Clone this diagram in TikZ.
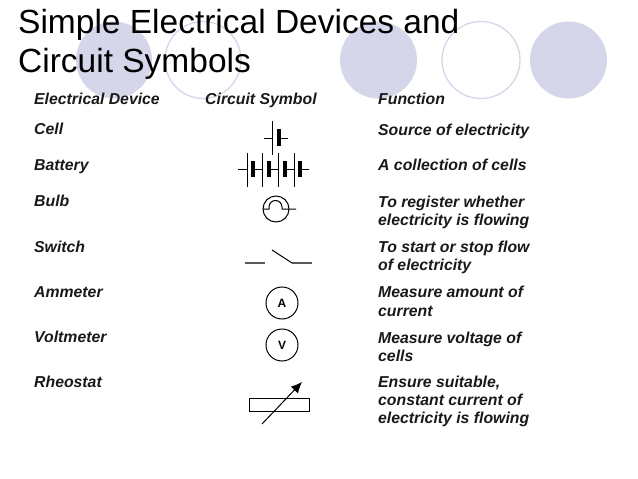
\documentclass[tikz,border=0pt]{standalone}
\usepackage{fontspec}
\setmainfont{Liberation Sans}
\usetikzlibrary{arrows.meta}
\definecolor{disc}{HTML}{D6D6EA}
\tikzset{
 filled/.style={fill=disc,draw=none},
 ring/.style={draw=disc,line width=1.3pt,fill=none},
 ttl/.style={anchor=base west,inner sep=0pt,font=\fontsize{33.5}{33.5}\selectfont},
 cell/.style={anchor=base west,inner sep=0pt,font=\fontsize{15.8}{15.8}\selectfont\bfseries\itshape,text=black!90},
 wire/.style={draw=black,line width=1pt},
 gray wire/.style={draw=black!65,line width=1.2pt},
 plate/.style={draw=black,line width=3.4pt},
 meter/.style={circle,draw=black,line width=1pt,minimum size=32pt,inner sep=0pt,font=\fontsize{12}{12}\selectfont\bfseries}
}
\begin{document}
\begin{tikzpicture}[x=1pt,y=-1pt]
\useasboundingbox (0,0) rectangle (638,479);
\fill[white] (0,0) rectangle (638,479);
% background discs
\path[filled] (114,60) ellipse (38 and 38.5);
\path[ring] (203,60) ellipse (38 and 38.5);
\path[filled] (378.5,60) ellipse (38.5 and 38.5);
\path[ring] (481,60) ellipse (39 and 38.5);
\path[filled] (568.5,60) ellipse (38.5 and 38.5);
% title
\node[ttl] (t1) at (18,34) {Simple Electrical Devices and};
\node[ttl] (t2) at (18,72) {Circuit Symbols};
% headers
\node[cell] (h1) at (34,104) {Electrical Device};
\node[cell] (h2) at (205,104) {Circuit Symbol};
\node[cell] (h3) at (378,104) {Function};
% devices
\node[cell] (d1) at (34,134) {Cell};
\node[cell] (d2) at (34,170) {Battery};
\node[cell] (d3) at (34,206) {Bulb};
\node[cell] (d4) at (34,252) {Switch};
\node[cell] (d5) at (34,297) {Ammeter};
\node[cell] (d6) at (34,342) {Voltmeter};
\node[cell] (d7) at (34,387) {Rheostat};
% functions
\node[cell] (f1) at (378,135) {Source of electricity};
\node[cell] (f2) at (378,170) {A collection of cells};
\node[cell] (f3a) at (378,207) {To register whether};
\node[cell] (f3b) at (378,225) {electricity is flowing};
\node[cell] (f4a) at (378,252) {To start or stop flow};
\node[cell] (f4b) at (378,270) {of electricity};
\node[cell] (f5a) at (378,297) {Measure amount of};
\node[cell] (f5b) at (378,316) {current};
\node[cell] (f6a) at (378,343) {Measure voltage of};
\node[cell] (f6b) at (378,361) {cells};
\node[cell] (f7a) at (378,387) {Ensure suitable,};
\node[cell] (f7b) at (378,405) {constant current of};
\node[cell] (f7c) at (378,423) {electricity is flowing};
% cell symbol
\draw[wire] (272,121) -- (272,155);
\draw[plate] (279,129) -- (279,146);
\draw[wire] (264,138) -- (272,138) (279,138) -- (288,138);
% battery symbol
\foreach \x in {247,262,278,294} \draw[wire] (\x,153) -- (\x,187);
\draw[line width=3.8pt] (253,161) -- (253,177);
\foreach \x in {269,285,300} \draw[plate] (\x,161) -- (\x,177);
\draw[wire] (238,169) -- (247,169) (253,169) -- (262,169) (269,169) -- (278,169) (285,169) -- (294,169) (300,169) -- (309,169);
% bulb symbol
\draw[wire] (276,209) circle (13);
\draw[wire] (263,209) -- (269,209) -- (269,207) arc (180:360:6.5) -- (282,209) -- (296,209);
% switch symbol
\draw[gray wire] (245,263) -- (265,263);
\draw[gray wire] (292,263) -- (312,263);
\draw[line width=1pt] (272,250) -- (292,263);
% meters
\node[meter] (am) at (282,303) {A};
\node[meter] (vm) at (282,345) {V};
% rheostat
\draw[wire] (249,398) rectangle (309,411);
\draw[line width=1pt,-{Latex[length=11pt,width=10pt]}] (262,424) -- (302,382);
\end{tikzpicture}
\end{document}
